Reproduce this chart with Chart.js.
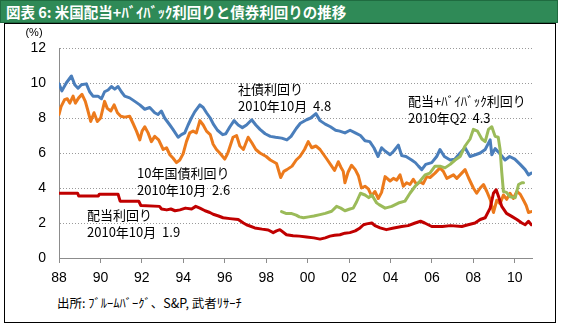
<!DOCTYPE html>
<html>
<head>
<meta charset="utf-8">
<script src="https://cdn.jsdelivr.net/npm/chart.js@4.4.1/dist/chart.umd.min.js"></script>
<style>
  body { margin: 0; background: #fff; width: 564px; height: 327px; overflow: hidden; position: relative; }
  #title {
    position: absolute; left: 0; top: 0; height: 21px; width: 551px;
    background: #2f8a57; border: 1px solid #1f6b40;
    color: #fff; font: bold 14.5px "Noto Sans CJK JP", sans-serif;
    line-height: 21px; padding-left: 5px;
  }
  #frame {
    position: absolute; left: 4px; top: 23px; width: 550px; height: 298px;
    border: 1px solid #000;
  }
  #source {
    position: absolute; left: 57px; top: 293px;
    font: 12.5px "Noto Sans CJK JP", sans-serif; color: #000;
  }
  canvas { position: absolute; left: 0; top: 0; }
</style>
</head>
<body>
<div id="title">図表 6: 米国配当+ﾊﾞｲﾊﾞｯｸ利回りと債券利回りの推移</div>
<div id="frame"></div>
<div id="source">出所: ﾌﾞﾙｰﾑﾊﾞｰｸﾞ、S&amp;P, 武者ﾘｻｰﾁ</div>
<canvas id="chartCanvas" width="564" height="327"></canvas>
<script>
// Corporate bond yield (%)
const corpYears = [1988.00, 1988.14, 1988.35, 1988.60, 1988.76, 1988.92, 1989.08, 1989.32, 1989.48, 1989.64,
  1989.88, 1990.05, 1990.20, 1990.37, 1990.53, 1990.69, 1990.85, 1991.01, 1991.17, 1991.41, 1991.66, 1991.90,
  1992.14, 1992.38, 1992.62, 1992.78, 1992.94, 1993.10, 1993.35, 1993.50, 1993.75, 1993.91, 1994.07, 1994.23,
  1994.39, 1994.55, 1994.80, 1994.96, 1995.12, 1995.30, 1995.45, 1995.65, 1995.90, 1996.05, 1996.25, 1996.45,
  1996.65, 1996.85, 1997.05, 1997.30, 1997.50, 1997.70, 1997.95, 1998.20, 1998.45, 1998.75, 1999.00, 1999.20,
  1999.45, 1999.65, 1999.95, 2000.15, 2000.40, 2000.60, 2000.85, 2001.10, 2001.35, 2001.55, 2001.80, 2002.05,
  2002.30, 2002.55, 2002.77, 2003.00, 2003.20, 2003.40, 2003.57, 2003.75, 2003.98, 2004.15, 2004.38, 2004.54,
  2004.75, 2005.02, 2005.20, 2005.35, 2005.51, 2005.70, 2005.99, 2006.23, 2006.39, 2006.60, 2006.88, 2007.10,
  2007.36, 2007.60, 2007.84, 2008.10, 2008.33, 2008.57, 2008.81, 2008.89, 2009.05, 2009.25, 2009.53, 2009.75,
  2010.00, 2010.26, 2010.50, 2010.66, 2010.80];
const corpVals = [9.95, 9.55, 10.0, 10.4, 9.9, 9.7, 9.9, 9.95, 9.5, 9.25,
  9.25, 9.1, 9.5, 9.6, 9.8, 9.65, 9.8, 9.5, 9.25, 9.15, 8.95, 8.75,
  8.5, 8.6, 8.3, 8.2, 8.4, 8.0, 7.6, 7.35, 6.9, 7.05, 7.15, 7.6,
  8.0, 8.35, 8.75, 8.6, 8.3, 8.0, 7.65, 7.3, 7.05, 7.1, 7.5, 7.85,
  7.6, 7.45, 7.6, 7.9, 7.6, 7.35, 7.1, 6.95, 6.9, 6.85, 6.75, 6.95,
  7.4, 7.7, 7.9, 8.0, 8.25, 7.85, 7.65, 7.5, 7.3, 7.25, 7.15, 7.3,
  7.15, 7.0, 6.7, 6.65, 6.3, 5.8, 6.3, 6.1, 5.9, 6.1, 6.45, 5.85,
  5.8, 5.6, 5.45, 5.25, 5.05, 5.35, 5.45, 5.8, 6.2, 5.8, 5.6, 5.65,
  6.0, 6.3, 5.8, 5.9, 6.0, 6.2, 6.75, 5.9, 6.25, 6.0, 5.6, 5.8,
  5.65, 5.35, 5.05, 4.75, 4.85];

// 10-year Treasury yield (%)
const tsyYears = [1988.00, 1988.10, 1988.27, 1988.40, 1988.52, 1988.68, 1988.79, 1988.95, 1989.11, 1989.27,
  1989.40, 1989.53, 1989.69, 1989.85, 1990.01, 1990.20, 1990.33, 1990.50, 1990.66, 1990.82, 1990.98, 1991.17,
  1991.41, 1991.57, 1991.74, 1991.90, 1992.01, 1992.14, 1992.30, 1992.46, 1992.62, 1992.81, 1993.03, 1993.19,
  1993.35, 1993.51, 1993.67, 1993.83, 1993.99, 1994.15, 1994.31, 1994.47, 1994.63, 1994.80, 1994.96, 1995.12,
  1995.30, 1995.44, 1995.60, 1995.76, 1996.00, 1996.15, 1996.40, 1996.57, 1996.73, 1996.90, 1997.13, 1997.30,
  1997.50, 1997.70, 1998.00, 1998.20, 1998.50, 1998.70, 1998.85, 1999.00, 1999.25, 1999.45, 1999.63, 1999.85,
  2000.03, 2000.20, 2000.40, 2000.60, 2000.90, 2001.16, 2001.30, 2001.48, 2001.60, 2001.72, 2001.80, 2001.95,
  2002.12, 2002.30, 2002.45, 2002.60, 2002.77, 2002.93, 2003.09, 2003.25, 2003.41, 2003.57, 2003.74, 2003.98,
  2004.14, 2004.30, 2004.46, 2004.62, 2004.78, 2004.94, 2005.10, 2005.26, 2005.42, 2005.58, 2005.75, 2005.91,
  2006.15, 2006.39, 2006.55, 2006.72, 2006.88, 2007.04, 2007.20, 2007.44, 2007.60, 2007.76, 2008.00, 2008.16,
  2008.33, 2008.49, 2008.65, 2008.81, 2008.97, 2009.13, 2009.29, 2009.45, 2009.61, 2009.77, 2009.93, 2010.10,
  2010.26, 2010.42, 2010.55, 2010.66, 2010.80];
const tsyVals = [8.2, 8.65, 9.05, 9.1, 8.85, 9.25, 8.85, 9.15, 9.35, 8.95,
  8.4, 7.8, 8.3, 7.8, 8.0, 8.95, 8.55, 8.4, 8.75, 8.3, 8.1, 8.05,
  8.1, 7.7, 7.25, 6.75, 7.25, 7.5, 7.15, 6.65, 6.95, 6.75, 6.2, 6.3,
  5.9, 5.7, 5.45, 5.6, 5.95, 6.65, 7.15, 7.25, 7.15, 7.85, 7.6, 7.25,
  7.05, 6.5, 6.2, 6.0, 5.65, 6.0, 6.9, 7.0, 6.4, 6.2, 6.9, 6.6,
  6.2, 6.0, 5.8, 5.6, 5.4, 4.6, 4.95, 5.05, 5.25, 5.6, 5.8, 6.2,
  6.65, 6.3, 6.4, 6.2, 5.7, 5.25, 5.0, 5.5, 5.2, 4.95, 4.3, 4.9,
  5.3, 5.05, 4.7, 4.0, 4.1, 3.95, 3.55, 3.8, 3.4, 3.75, 4.65, 4.4,
  4.55, 4.45, 4.75, 4.1, 4.3, 4.2, 4.5, 4.2, 4.35, 4.25, 4.65, 4.6,
  4.85, 5.15, 4.95, 4.55, 4.65, 4.75, 4.55, 4.85, 5.05, 4.6, 4.0, 3.7,
  4.0, 4.2, 3.8, 3.35, 2.6, 3.3, 3.1, 3.6, 3.35, 3.7, 3.4, 3.8,
  3.65, 3.3, 3.0, 2.6, 2.65];

// Dividend yield (%)
const divYears = [1988.00, 1988.90, 1988.95, 1989.90, 1989.95, 1990.85, 1990.95, 1991.85, 1991.95, 1992.85,
  1992.95, 1993.20, 1993.40, 1993.60, 1993.84, 1994.10, 1994.40, 1994.60, 1994.80, 1995.05, 1995.28, 1995.44,
  1995.70, 1995.92, 1996.25, 1996.65, 1996.90, 1997.05, 1997.45, 1997.80, 1998.10, 1998.34, 1998.50, 1998.66,
  1998.98, 1999.30, 1999.60, 1999.95, 2000.30, 2000.60, 2000.85, 2001.08, 2001.30, 2001.56, 2001.80, 2002.04,
  2002.30, 2002.53, 2002.70, 2002.85, 2003.10, 2003.25, 2003.50, 2003.80, 2004.10, 2004.54, 2004.85, 2005.19,
  2005.45, 2005.65, 2005.99, 2006.50, 2006.90, 2007.44, 2007.75, 2008.08, 2008.33, 2008.57, 2008.81, 2008.97,
  2009.10, 2009.22, 2009.37, 2009.60, 2009.85, 2010.10, 2010.34, 2010.50, 2010.66, 2010.80];
const divVals = [3.7, 3.7, 3.55, 3.55, 3.65, 3.65, 3.25, 3.25, 3.0, 2.95,
  2.8, 2.75, 2.8, 2.7, 2.75, 2.85, 2.8, 2.95, 2.85, 2.7, 2.6, 2.5,
  2.4, 2.3, 2.25, 2.2, 2.0, 1.9, 1.72, 1.65, 1.6, 1.45, 1.55, 1.62,
  1.33, 1.27, 1.25, 1.2, 1.15, 1.08, 1.15, 1.25, 1.3, 1.33, 1.42, 1.45,
  1.55, 1.72, 1.9, 1.95, 2.0, 1.85, 1.72, 1.62, 1.7, 1.8, 1.85, 2.0,
  2.1, 2.0, 1.8, 1.8, 1.85, 1.8, 1.9, 2.0, 2.2, 2.3, 2.85, 3.7,
  3.9, 3.5, 2.95, 2.55, 2.38, 2.2, 2.0, 1.9, 2.1, 1.9];

// Dividend + buyback yield (%)
const totYears = [1998.74, 1998.95, 1999.20, 1999.45, 1999.60, 1999.80, 2000.05, 2000.30, 2000.60, 2000.85,
  2001.16, 2001.40, 2001.60, 2001.80, 2002.04, 2002.20, 2002.36, 2002.55, 2002.77, 2002.95, 2003.10, 2003.33,
  2003.45, 2003.74, 2004.06, 2004.38, 2004.70, 2004.94, 2005.19, 2005.43, 2005.67, 2005.90, 2006.15, 2006.39,
  2006.63, 2006.88, 2007.12, 2007.36, 2007.60, 2007.84, 2008.00, 2008.20, 2008.41, 2008.57, 2008.73, 2008.89,
  2009.05, 2009.20, 2009.29, 2009.37, 2009.45, 2009.60, 2009.77, 2010.02, 2010.18, 2010.34, 2010.42];
const totVals = [2.65, 2.55, 2.55, 2.45, 2.35, 2.3, 2.35, 2.4, 2.48, 2.55,
  2.67, 2.95, 2.85, 2.7, 2.8, 2.85, 3.2, 3.7, 3.6, 3.45, 3.6, 3.15,
  3.05, 2.85, 2.95, 3.14, 3.25, 3.7, 4.1, 4.4, 4.75, 4.85, 5.25, 5.25,
  5.15, 5.35, 5.6, 5.8, 6.4, 6.8, 7.35, 7.25, 6.8, 6.65, 7.35, 7.5,
  6.95, 6.9, 6.2, 4.9, 3.8, 3.75, 3.5, 3.45, 4.2, 4.3, 4.3];

// Year ticks on the x axis, y axis range
const yearTicks = [1988, 1990, 1992, 1994, 1996, 1998, 2000, 2002, 2004, 2006, 2008, 2010];
const yMin = 0, yMax = 12, yStep = 2;

// End-of-series labels
const seriesNotes = [
  { x: 238, y: 89, lines: ['社債利回り', '2010年10月  4.8'] },
  { x: 408, y: 101.5, lines: ['配当+ﾊﾞｲﾊﾞｯｸ利回り', '2010年Q2  4.3'] },
  { x: 137, y: 173.5, lines: ['10年国債利回り', '2010年10月  2.6'] },
  { x: 87, y: 215, lines: ['配当利回り', '2010年10月  1.9'] }
];

function toPoints(xs, ys) {
  return xs.map((x, i) => ({ x: x, y: ys[i] }));
}

const notesPlugin = {
  id: 'notes',
  afterDraw(chart) {
    const c = chart.ctx;
    c.save();
    c.fillStyle = '#000';
    c.textBaseline = 'middle';
    c.textAlign = 'left';
    c.font = '13px "Noto Sans CJK JP", sans-serif';
    seriesNotes.forEach(n => {
      n.lines.forEach((t, i) => c.fillText(t, n.x, n.y + i * 16.7));
    });
    // unit label above the y axis
    c.font = '11px "Liberation Sans", Arial, sans-serif';
    c.textAlign = 'center';
    c.fillText('(%)', 34, 33);
    c.restore();
  }
};

const line = (data, color, order) => ({
  data: data, borderColor: color, backgroundColor: color,
  borderWidth: 3, pointRadius: 0, tension: 0, fill: false,
  borderJoinStyle: 'round', borderCapStyle: 'round', order: order
});

const ctx = document.getElementById('chartCanvas').getContext('2d');
const yieldChart = new Chart(ctx, {
  type: 'line',
  data: {
    datasets: [
      line(toPoints(divYears, divVals), '#c00000', 0),
      line(toPoints(totYears, totVals), '#9bbb59', 1),
      line(toPoints(tsyYears, tsyVals), '#ec7a1c', 2),
      line(toPoints(corpYears, corpVals), '#4a7ebb', 3)
    ]
  },
  options: {
    responsive: false,
    animation: false,
    layout: { padding: { left: 0, top: 48, right: 32, bottom: 38 } },
    plugins: { legend: { display: false }, tooltip: { enabled: false } },
    scales: {
      x: {
        type: 'linear',
        min: 1988,
        max: 2010.83,
        afterBuildTicks: scale => { scale.ticks = yearTicks.map(v => ({ value: v })); },
        afterFit: scale => { scale.height = 31; },
        ticks: {
          color: '#000',
          font: { family: '"Liberation Sans", Arial, sans-serif', size: 14 },
          padding: 7,
          maxRotation: 0,
          autoSkip: false,
          callback: v => String(v % 100).padStart(2, '0')
        },
        grid: { drawOnChartArea: false, drawTicks: true, tickLength: 5, color: '#8c8c8c' },
        border: { color: '#8c8c8c', width: 1 }
      },
      y: {
        min: yMin,
        max: yMax,
        afterFit: scale => { scale.width = 59; },
        ticks: {
          stepSize: yStep,
          color: '#000',
          font: { family: '"Liberation Sans", Arial, sans-serif', size: 14 },
          padding: 13
        },
        grid: {
          drawTicks: false,
          color: c => (c.tick && c.tick.value === 0 ? 'rgba(0,0,0,0)' : '#9a9a9a')
        },
        border: { color: '#8c8c8c', width: 1, dash: [1, 2] }
      }
    }
  },
  plugins: [notesPlugin]
});
</script>
</body>
</html>
